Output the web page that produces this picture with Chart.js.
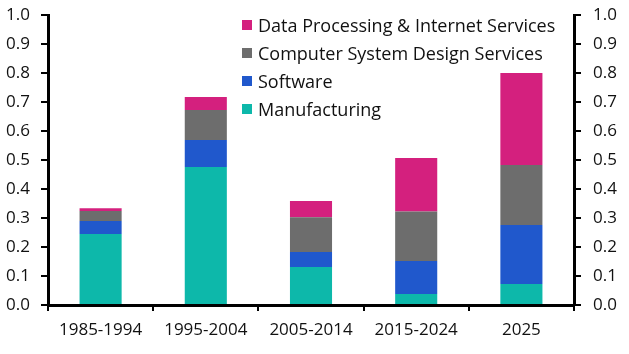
<!DOCTYPE html>
<html>
<head>
<meta charset="utf-8">
<script src="https://cdn.jsdelivr.net/npm/chart.js@4/dist/chart.umd.min.js"></script>
<style>
  html, body { margin: 0; padding: 0; background: #fff; }
  #wrap { position: relative; width: 629px; height: 354px; }
  #legend { position: absolute; left: 242px; top: 11px; font-family: "Open Sans", sans-serif; font-size: 18px; color: #111; }
  .row { height: 28px; display: flex; align-items: center; white-space: nowrap; }
  .sw { width: 10px; height: 10px; margin-right: 6px; flex: none; }
</style>
</head>
<body>
<div id="wrap">
  <canvas id="c" width="629" height="354"></canvas>
  <div id="legend"></div>
</div>
<script>
const categories = ["1985-1994", "1995-2004", "2005-2014", "2015-2024", "2025"];
const manufacturing = [0.245, 0.476, 0.131, 0.038, 0.072];
const software = [0.045, 0.093, 0.052, 0.114, 0.204];
const computerDesign = [0.034, 0.103, 0.120, 0.170, 0.207];
const dataProcessing = [0.010, 0.045, 0.056, 0.185, 0.317];
const yTicks = [0.0, 0.1, 0.2, 0.3, 0.4, 0.5, 0.6, 0.7, 0.8, 0.9, 1.0];

const series = [
  { label: "Manufacturing", data: manufacturing, color: "#0DB8AA" },
  { label: "Software", data: software, color: "#2058CC" },
  { label: "Computer System Design Services", data: computerDesign, color: "#6D6D6D" },
  { label: "Data Processing & Internet Services", data: dataProcessing, color: "#D4207E" }
];

const legend = document.getElementById("legend");
series.slice().reverse().forEach(s => {
  const row = document.createElement("div");
  row.className = "row";
  const sw = document.createElement("span");
  sw.className = "sw";
  sw.style.background = s.color;
  const t = document.createElement("span");
  t.textContent = s.label;
  row.appendChild(sw); row.appendChild(t);
  legend.appendChild(row);
});

const font = { family: "'Open Sans', sans-serif", size: 17 };
const yAxis = (pos, w, pad) => ({
  type: "linear", position: pos, stacked: true, min: 0, max: 1,
  afterBuildTicks: s => { s.ticks = yTicks.map(v => ({ value: v })); },
  afterFit: s => { s.width = w; s.paddingTop = 0; s.paddingBottom = 0; },
  ticks: { font, color: "#111", padding: pad, callback: v => v.toFixed(1) },
  grid: { drawOnChartArea: false, tickLength: 7, tickColor: "#000", lineWidth: 2 },
  border: { display: true, color: "#000", width: 3 }
});

new Chart(document.getElementById("c"), {
  type: "bar",
  data: {
    labels: categories,
    datasets: series.map(s => ({
      label: s.label, data: s.data, backgroundColor: s.color,
      categoryPercentage: 1, barPercentage: 0.4, borderWidth: 0
    }))
  },
  options: {
    responsive: false, animation: false,
    layout: { padding: { top: 15, left: 0, right: 0, bottom: 0 } },
    plugins: { legend: { display: false }, tooltip: { enabled: false } },
    scales: {
      x: {
        stacked: true,
        afterFit: s => { s.height = 49; s.paddingLeft = 0; s.paddingRight = 0; },
        ticks: { font, color: "#111", padding: 9, maxRotation: 0 },
        grid: { drawOnChartArea: false, offset: true, tickLength: 6, tickColor: "#000", lineWidth: 2 },
        border: { display: true, color: "#000", width: 3 }
      },
      y: yAxis("left", 48, 11),
      y2: yAxis("right", 55, 12)
    }
  }
});
</script>
</body>
</html>
